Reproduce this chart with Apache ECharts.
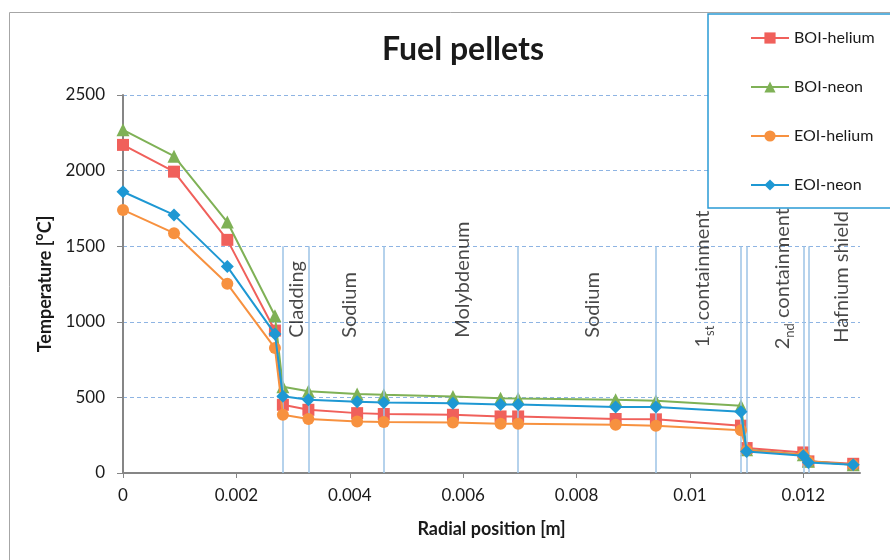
<!DOCTYPE html>
<html>
<head>
<meta charset="utf-8">
<script src="https://cdn.jsdelivr.net/npm/echarts@6/dist/echarts.min.js"></script>
<style>
  html, body { margin: 0; padding: 0; background: #fff; }
  #chart { width: 890px; height: 560px; }
</style>
</head>
<body>
<div id="chart"></div>
<script>
// radial positions of the computed points [m]
var radialPos = [0, 0.0009, 0.00184, 0.00268, 0.00282, 0.00327, 0.00413, 0.0046, 0.00582,
                 0.00666, 0.00697, 0.00869, 0.0094, 0.0109, 0.011, 0.012, 0.01209, 0.01288];

// temperatures [°C]
var boiHelium = [2170, 1993, 1542, 942, 451, 418, 396, 390, 385, 374, 374, 357, 355, 313, 165, 136, 77, 61];
var boiNeon   = [2270, 2095, 1660, 1040, 570, 540, 522, 517, 506, 495, 493, 484, 478, 445, 154, 121, 77, 55];
var eoiHelium = [1740, 1586, 1251, 826, 385, 357, 341, 337, 334, 326, 326, 319, 313, 282, 150, 121, 77, 55];
var eoiNeon   = [1860, 1707, 1365, 920, 508, 484, 471, 467, 462, 453, 453, 436, 436, 405, 143, 114, 70, 55];

var seriesNames = ['BOI-helium', 'BOI-neon', 'EOI-helium', 'EOI-neon'];

// material boundaries [m] and how high the marker lines go [°C]
var boundaries = [0.00282, 0.00327, 0.0046, 0.00697, 0.0094, 0.0109, 0.011, 0.012, 0.01209];
var boundaryTop = 1500;

// region labels and where they sit (data coordinates)
var regionNames = ['Cladding', 'Sodium', 'Molybdenum', 'Sodium', '{a|1}{s|st}{a| containment}',
                   '{a|2}{s|nd}{a| containment}', 'Hafnium shield'];
var regionX = [0.00306, 0.0040, 0.00599, 0.00829, 0.01026, 0.01167, 0.01267];
var regionY = [894, 894, 894, 894, 830, 818, 862];

var xTicks = [0, 0.002, 0.004, 0.006, 0.008, 0.01, 0.012];

function pairs(ys) {
    return radialPos.map(function (x, i) { return [x, ys[i]]; });
}

var font = 'Lato, "Noto Sans", sans-serif';
var colors = ['#F0605B', '#7FB156', '#F7913F', '#1E98D3'];
var symbols = ['rect', 'triangle', 'circle', 'diamond'];
var symbolSizes = [12, 13, 12, 13];
var values = [boiHelium, boiNeon, eoiHelium, eoiNeon];

var myChart = echarts.init(document.getElementById('chart'));

var series = seriesNames.map(function (name, i) {
    return {
        name: name,
        type: 'line',
        data: pairs(values[i]),
        symbol: symbols[i],
        symbolSize: symbolSizes[i],
        color: colors[i],
        lineStyle: { width: 2, color: colors[i] },
        itemStyle: { color: colors[i] },
        z: 3 + i
    };
});

// region labels + boundary lines
series.unshift({
    name: 'regions',
    type: 'scatter',
    symbolSize: 0,
    silent: true,
    z: 2,
    data: regionX.map(function (x, i) { return { value: [x, regionY[i]], name: regionNames[i] }; }),
    label: {
        show: true,
        position: 'inside',
        rotate: 90,
        align: 'left',
        verticalAlign: 'middle',
        formatter: '{b}',
        fontFamily: font,
        fontSize: 20,
        color: '#1a1a1a',
        rich: {
            a: { fontFamily: font, fontSize: 20, color: '#1a1a1a', lineHeight: 24, verticalAlign: 'top' },
            s: { fontFamily: font, fontSize: 13, color: '#1a1a1a', lineHeight: 15, padding: [11, 0, 0, 0], verticalAlign: 'top' }
        }
    },
    markLine: {
        silent: true,
        symbol: ['none', 'none'],
        label: { show: false },
        lineStyle: { color: '#9DC3E6', width: 1.5, type: 'solid' },
        data: boundaries.map(function (x) {
            return [{ coord: [x, 0] }, { coord: [x, boundaryTop] }];
        })
    }
});

var option = {
    animation: false,
    backgroundColor: '#fff',
    title: {
        text: 'Fuel pellets',
        left: 458,
        top: 29,
        textAlign: 'center',
        textStyle: { fontFamily: font, fontSize: 32, fontWeight: 'bold', color: '#1a1a1a' }
    },
    legend: {
        data: seriesNames,
        orient: 'vertical',
        left: 745,
        top: 25,
        itemWidth: 38,
        itemHeight: 14,
        itemGap: 33,
        z: 110,
        textStyle: { fontFamily: font, fontSize: 16, color: '#1a1a1a' }
    },
    graphic: [
        {
            type: 'rect',
            z: 0,
            shape: { x: 9.5, y: 12.5, width: 1000, height: 1000 },
            style: { fill: 'none', stroke: '#A6A6A6', lineWidth: 1 }
        },
        {
            type: 'rect',
            z: 100,
            shape: { x: 708, y: 14, width: 200, height: 194 },
            style: { fill: '#fff', stroke: '#2A9BD5', lineWidth: 1.5 }
        }
    ],
    grid: { left: 123, right: 30, top: 95, bottom: 87 },
    xAxis: {
        type: 'value',
        min: 0,
        max: 0.013,
        interval: 0.002,
        name: 'Radial position [m]',
        nameLocation: 'middle',
        nameGap: 47,
        nameTextStyle: { fontFamily: font, fontSize: 18, fontWeight: 'bold', color: '#1a1a1a' },
        axisLine: { show: true, lineStyle: { color: '#868686', width: 2 } },
        axisTick: { show: true, inside: false, length: 5, lineStyle: { color: '#868686' } },
        axisLabel: {
            showMaxLabel: false,
            margin: 14,
            fontFamily: font,
            fontSize: 17,
            color: '#1a1a1a',
            formatter: function (v) {
                for (var i = 0; i < xTicks.length; i++) {
                    if (Math.abs(v - xTicks[i]) < 1e-9) return String(xTicks[i]);
                }
                return '';
            }
        },
        splitLine: { show: false }
    },
    yAxis: {
        type: 'value',
        min: 0,
        max: 2500,
        interval: 500,
        name: 'Temperature [°C]',
        nameLocation: 'middle',
        nameGap: 66,
        nameTextStyle: { fontFamily: font, fontSize: 18, fontWeight: 'bold', color: '#1a1a1a' },
        axisLine: { show: true, lineStyle: { color: '#868686', width: 2 } },
        axisTick: { show: true, inside: false, length: 6, lineStyle: { color: '#868686' } },
        axisLabel: {
            margin: 18,
            fontFamily: font,
            fontSize: 17,
            color: '#1a1a1a',
            formatter: function (v) { return String(v); }
        },
        splitLine: { show: true, lineStyle: { color: '#8EB4E3', width: 1, type: [4, 3] } }
    },
    series: series
};

myChart.setOption(option);
</script>
</body>
</html>
